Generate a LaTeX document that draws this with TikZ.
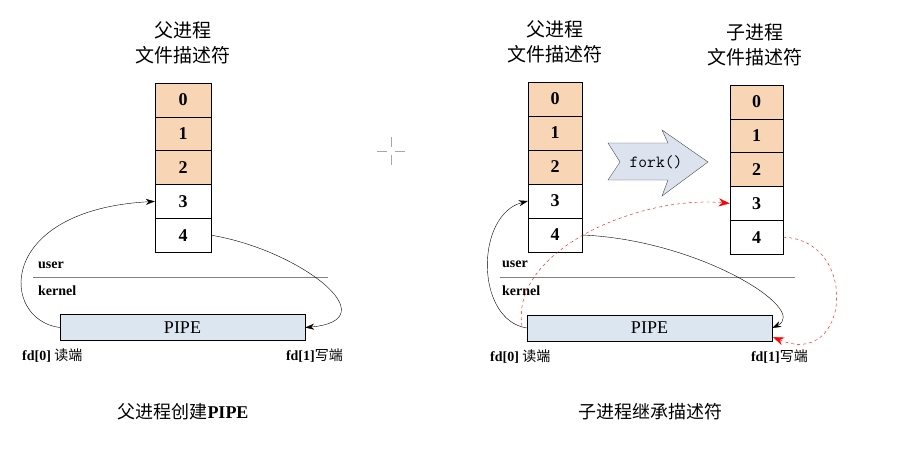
\documentclass[tikz,border=0pt]{standalone}
\usepackage{fontspec}
\setmainfont{Liberation Serif}
\newfontfamily\cjk{Noto Sans CJK SC}
\usetikzlibrary{arrows.meta}
\definecolor{fdor}{HTML}{F8D5B5}
\definecolor{pipeb}{HTML}{DCE6F0}
\definecolor{forkb}{HTML}{DDE3EE}
\tikzset{
 cell/.style={draw,minimum width=#1,minimum height=34pt,inner sep=0pt,font=\bfseries\fontsize{18}{18}\selectfont},
 hd/.style={font=\cjk\fontsize{19}{25}\selectfont,align=center},
 lab/.style={font=\bfseries\fontsize{14}{14}\selectfont,inner sep=0pt},
 pipe/.style={draw,fill=pipeb,minimum width=245pt,minimum height=26pt,inner sep=0pt,font=\fontsize{18}{18}\selectfont},
 conn/.style={-{Stealth[length=9pt,width=6pt]},black,thin},
 rconn/.style={-{Stealth[length=11pt,width=8pt]},red,dashed,thin},
}
\begin{document}
\begin{tikzpicture}[x=1pt,y=-1pt]
\useasboundingbox (0,0) rectangle (906,452);
% left
\node[hd] (lh) at (183,43) {父进程\\文件描述符};
\foreach \i/\f in {0/fdor,1/fdor,2/fdor,3/white,4/white}{
 \node[cell=56pt,fill=\f] (l\i) at (183,{100+\i*33.8}) {\i};}
\node[lab,anchor=west] (lu) at (38,265) {user};
\node[lab,anchor=west] (lk) at (38,291) {kernel};
\coordinate (ls1) at (33,277); \coordinate (ls2) at (328,277);
\draw[gray] (ls1) -- (ls2);
\node[pipe] (lp) at (182.5,327.5) {PIPE};
\node[lab,anchor=west] (lf0) at (22,356) {fd[0] {\cjk\mdseries 读端}};
\node[lab,anchor=east] (lf1) at (343,356) {fd[1]{\cjk\mdseries 写端}};
\node[font=\fontsize{18}{18}\selectfont] (lc) at (183,412) {{\cjk 父进程创建}\textbf{PIPE}};
\draw[conn] (lp.west) .. controls (0,320) and (-5,210) .. (l3.west);
\draw[conn] (l4.east) .. controls (300,250) and (390,320) .. (lp.east);
% crosshair
\coordinate (c1) at (377,151); \coordinate (c2) at (405,151);
\coordinate (c3) at (391,137); \coordinate (c4) at (391,165);
\draw[gray!70,thick] (c1) -- ++(10,0) (c2) -- ++(-10,0) (c3) -- ++(0,10) (c4) -- ++(0,-10);
% right parent
\node[hd] (rh) at (555,42) {父进程\\文件描述符};
\foreach \i/\f in {0/fdor,1/fdor,2/fdor,3/white,4/white}{
 \node[cell=54pt,fill=\f] (p\i) at (555,{99+\i*34}) {\i};}
\node[hd] (ch) at (755,45) {子进程\\文件描述符};
\foreach \i/\f in {0/fdor,1/fdor,2/fdor,3/white,4/white}{
 \node[cell=53pt,fill=\f] (c\i) at (756.5,{102+\i*33.8}) {\i};}
% fork arrow
\draw[fill=forkb,draw=gray!60!black] (608,143) -- (668,143) -- (662,130) -- (708,162) -- (662,196) -- (668,180) -- (608,180) -- (620,162) -- cycle;
\node[font=\ttfamily\fontsize{17}{17}\selectfont] (fk) at (656,162) {fork()};
\node[lab,anchor=west] (ru) at (502,264) {user};
\node[lab,anchor=west] (rk) at (502,291) {kernel};
\coordinate (rs1) at (500,277); \coordinate (rs2) at (795,277);
\draw[gray] (rs1) -- (rs2);
\node[pipe] (rp) at (649.5,328) {PIPE};
\node[lab,anchor=west] (rf0) at (490,357) {fd[0] {\cjk\mdseries 读端}};
\node[lab,anchor=east] (rf1) at (808,357) {fd[1]{\cjk\mdseries 写端}};
\node[font=\cjk\fontsize{18}{18}\selectfont] (rc) at (650,412) {子进程继承描述符};
\draw[conn] (rp.west) .. controls (475,320) and (475,215) .. (p3.west);
\draw[conn] (p4.east) .. controls (700,240) and (810,310) .. (rp.east);
\coordinate (rpl) at (522,326);
\draw[rconn] (rpl) .. controls (510,250) and (640,195) .. (c3.west);
\coordinate (rpr) at (773,337);
\draw[rconn] (c4.east) .. controls (860,240) and (850,370) .. (rpr);
\end{tikzpicture}
\end{document}
